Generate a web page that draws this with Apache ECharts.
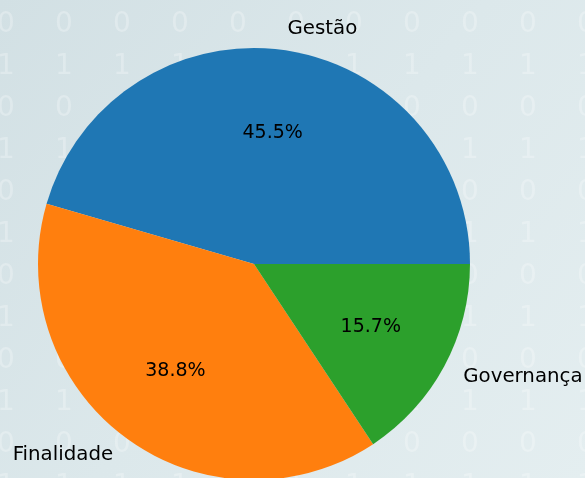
<!DOCTYPE html>
<html>
<head>
<meta charset="utf-8">
<script src="https://cdn.jsdelivr.net/npm/echarts@6/dist/echarts.min.js"></script>
<style>
  html, body { margin: 0; padding: 0; }
  #main { width: 585px; height: 478px; }
</style>
</head>
<body>
<div id="main"></div>
<script>
const categories = ['Gestão', 'Finalidade', 'Governança'];
const shares = [45.5, 38.8, 15.7];
const colors = ['#1f77b4', '#ff7f0e', '#2ca02c'];

const font = 'DejaVu Sans';
const center = [254, 264];
const radius = 216;

// faint binary digits behind the pie, like the picture's backdrop
let digits = [];
for (let row = 0; row < 12; row++) {
    for (let col = 0; col < 11; col++) {
        digits.push({
            type: 'text',
            x: 6 + col * 58,
            y: 25 + row * 42,
            silent: true,
            style: {
                text: row % 2 ? '1' : '0',
                fill: 'rgba(255,255,255,0.27)',
                font: '28px "DejaVu Sans"',
                align: 'center',
                verticalAlign: 'middle'
            }
        });
    }
}

let pieData = categories.map((name, i) => ({
    name: name,
    value: shares[i],
    itemStyle: { color: colors[i] }
}));

let option = {
    backgroundColor: {
        type: 'linear', x: 0, y: 0, x2: 1, y2: 1,
        colorStops: [
            { offset: 0, color: '#d2e0e4' },
            { offset: 0.5, color: '#dce8eb' },
            { offset: 1, color: '#e4eef0' }
        ]
    },
    animation: false,
    graphic: { elements: digits },
    series: [
        {
            type: 'pie',
            center: center,
            radius: radius,
            startAngle: 0,
            clockwise: false,
            avoidLabelOverlap: false,
            silent: true,
            itemStyle: { borderWidth: 0 },
            label: {
                show: true,
                position: 'outside',
                formatter: '{b}',
                color: '#000',
                fontFamily: font,
                fontSize: 19.8,
                distanceToLabelLine: 0
            },
            labelLine: { show: false, length: radius * 0.1, length2: 0 },
            data: pieData
        },
        {
            // transparent copy, only to put the percentages at 0.6 of the radius
            type: 'pie',
            center: center,
            radius: radius * 1.2,
            startAngle: 0,
            clockwise: false,
            silent: true,
            percentPrecision: 1,
            itemStyle: { color: 'rgba(0,0,0,0)', borderWidth: 0 },
            label: {
                show: true,
                position: 'inside',
                formatter: '{d}%',
                color: '#000',
                fontFamily: font,
                fontSize: 19
            },
            labelLine: { show: false },
            data: categories.map((name, i) => ({ name: name, value: shares[i] }))
        }
    ]
};

let chart = echarts.init(document.getElementById('main'));
chart.setOption(option);
</script>
</body>
</html>
